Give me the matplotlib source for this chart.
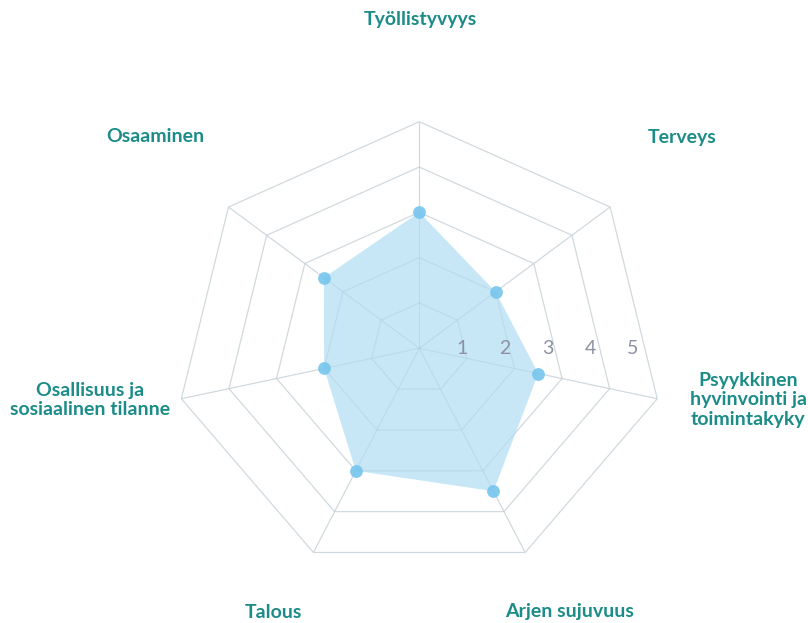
import numpy as np
import matplotlib
matplotlib.use("Agg")
import matplotlib.pyplot as plt

categories = ["Työllistyvyys", "Terveys", "Psyykkinen\nhyvinvointi ja\ntoimintakyky",
              "Arjen sujuvuus", "Talous", "Osallisuus ja\nsosiaalinen tilanne", "Osaaminen"]
values = [3.0, 2.0, 2.5, 3.5, 3.0, 2.0, 2.5]
levels = [1, 2, 3, 4, 5]
level_labels = ["1", "2", "3", "4", "5"]

W, H = 808, 623
fig = plt.figure(figsize=(W / 100, H / 100), dpi=100)
fig.patch.set_facecolor("white")

cx, cy, R, sx = 419.3, 348.3, 226.6, 1.077
ax = fig.add_axes([(cx - R * sx) / W, (H - cy - R) / H, 2 * R * sx / W, 2 * R / H], polar=True)
ax.set_aspect("auto")
ax.set_theta_zero_location("N")
ax.set_theta_direction(-1)
ax.set_ylim(0, levels[-1])
ax.set_axis_off()

n = len(categories)
theta = np.arange(n) * 2 * np.pi / n
theta_c = np.append(theta, theta[0])

grid_col = "#e6e6e6"
for lv in levels:
    ax.plot(theta_c, [lv] * (n + 1), color=grid_col, lw=0.9, zorder=1, clip_on=False)
for t in theta:
    ax.plot([t, t], [0, levels[-1]], color=grid_col, lw=0.9, zorder=1, clip_on=False)

vals_c = np.append(values, values[0])
ax.fill(theta_c, vals_c, color="#c4e6f7", alpha=0.95, zorder=2, lw=0)
for lv in levels:
    ax.plot(theta_c, [lv] * (n + 1), color="#a8c6d6", lw=0.7, alpha=0.4, zorder=3)
for t in theta:
    ax.plot([t, t], [0, levels[-1]], color="#a8c6d6", lw=0.7, alpha=0.4, zorder=3)
ax.scatter(theta, values, s=85, color="#76c5ee", alpha=0.9, zorder=4, lw=0)

for lv, lab in zip(levels, level_labels):
    ax.text(np.pi / 2, lv * 0.875, lab, ha="center", va="center", fontsize=14,
            color="#8b91a2", family="Lato", zorder=5)

teal = "#1b8c88"
label_pos = [(420, 20), (682, 137), (748, 400), (570, 612), (273, 612), (90, 400), (155, 137)]
for name, (x, y) in zip(categories, label_pos):
    fig.text(x / W, 1 - y / H, name, ha="center", va="center", fontsize=14,
             color=teal, family="Lato", fontweight="bold", linespacing=1.2)

fig.savefig("out.png", dpi=100, facecolor="white")
